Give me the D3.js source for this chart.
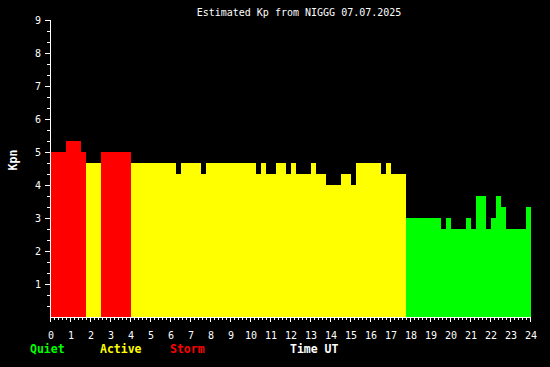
<!DOCTYPE html>
<html>
<head>
<meta charset="utf-8">
<script src="https://cdn.jsdelivr.net/npm/d3@7"></script>
<style>
  body { margin: 0; background: #000; }
  svg { display: block; }
  text { font-family: "DejaVu Sans Mono", monospace; fill: #fff; }
</style>
</head>
<body>
<div id="wrapper"></div>
<script>
// Kp estimate, one value per 15 minutes (00:00 .. 24:00 UT)
const kpValues = [
  5, 5, 5, 5.33, 5.33, 5.33, 5, 4.67, 4.67, 4.67,
  5, 5, 5, 5, 5, 5, 4.67, 4.67, 4.67, 4.67,
  4.67, 4.67, 4.67, 4.67, 4.67, 4.33, 4.67, 4.67, 4.67, 4.67,
  4.33, 4.67, 4.67, 4.67, 4.67, 4.67, 4.67, 4.67, 4.67, 4.67,
  4.67, 4.33, 4.67, 4.33, 4.33, 4.67, 4.67, 4.33, 4.67, 4.33,
  4.33, 4.33, 4.67, 4.33, 4.33, 4, 4, 4, 4.33, 4.33,
  4, 4.67, 4.67, 4.67, 4.67, 4.67, 4.33, 4.67, 4.33, 4.33,
  4.33, 3, 3, 3, 3, 3, 3, 3, 2.67, 3,
  2.67, 2.67, 2.67, 3, 2.67, 3.67, 3.67, 2.67, 3, 3.67,
  3.33, 2.67, 2.67, 2.67, 2.67, 3.33
]
const stepHours = 0.25
const yTickLabels = [1, 2, 3, 4, 5, 6, 7, 8, 9]
const xTickLabels = d3.range(0, 25)
const legendItems = [
  { label: "Quiet", color: "#00ff00" },
  { label: "Active", color: "#ffff00" },
  { label: "Storm", color: "#ff0000" },
]
const title = "Estimated Kp from NIGGG 07.07.2025"

const width = 550
const height = 367

const svg = d3.select("#wrapper")
  .append("svg")
    .attr("width", width)
    .attr("height", height)
    .style("background", "#000")

const xScale = d3.scaleLinear().domain([0, 24]).range([50, 530])
const yScale = d3.scaleLinear().domain([0, 9]).range([317, 20])

const colorFor = v => v >= 5 ? "#ff0000" : v >= 4 ? "#ffff00" : "#00ff00"

// bars
svg.append("g")
    .attr("shape-rendering", "crispEdges")
  .selectAll("rect")
  .data(kpValues)
  .join("rect")
    .attr("x", (d, i) => xScale(i * stepHours) + 1)
    .attr("width", (d, i) => xScale((i + 1) * stepHours) - xScale(i * stepHours))
    .attr("y", d => yScale(d))
    .attr("height", d => yScale(0) - yScale(d))
    .attr("fill", colorFor)

// y axis
const yAxisG = svg.append("g").attr("shape-rendering", "crispEdges")
yAxisG.append("line")
    .attr("x1", 50.5).attr("x2", 50.5)
    .attr("y1", yScale(9)).attr("y2", yScale(0) + 1)
    .attr("stroke", "#fff")
yAxisG.selectAll(".ytick")
  .data(d3.range(1, 28).map(d => d / 3))
  .join("line")
    .attr("x1", d => Math.abs(d - Math.round(d)) < 0.01 ? 45 : 47)
    .attr("x2", 50)
    .attr("y1", d => Math.round(yScale(d)) + 0.5)
    .attr("y2", d => Math.round(yScale(d)) + 0.5)
    .attr("stroke", "#fff")
yAxisG.selectAll("text")
  .data(yTickLabels)
  .join("text")
    .attr("x", 41)
    .attr("y", d => yScale(d) + 4)
    .attr("text-anchor", "end")
    .attr("font-size", 10)
    .text(d => d)

// x axis
const xAxisG = svg.append("g").attr("shape-rendering", "crispEdges")
xAxisG.append("line")
    .attr("x1", xScale(0)).attr("x2", xScale(24) + 1)
    .attr("y1", 317.5).attr("y2", 317.5)
    .attr("stroke", "#fff")
xAxisG.selectAll(".xtick")
  .data(d3.range(0, 121).map(d => d / 5))
  .join("line")
    .attr("x1", d => Math.round(xScale(d)) + 0.5)
    .attr("x2", d => Math.round(xScale(d)) + 0.5)
    .attr("y1", 318)
    .attr("y2", d => Math.abs(d - Math.round(d)) < 0.01 ? 322 : 320)
    .attr("stroke", "#fff")
xAxisG.selectAll("text")
  .data(xTickLabels)
  .join("text")
    .attr("x", d => xScale(d) + 1)
    .attr("y", 339)
    .attr("text-anchor", "middle")
    .attr("font-size", 10)
    .text(d => d)

// title
svg.append("text")
    .attr("x", 299)
    .attr("y", 16)
    .attr("text-anchor", "middle")
    .attr("font-size", 10)
    .text(title)

// y label
svg.append("text")
    .attr("transform", "translate(17, 160) rotate(-90)")
    .attr("text-anchor", "middle")
    .attr("font-size", 11.5)
    .attr("font-weight", "bold")
    .text("Kpn")

// legend
svg.selectAll(".legend")
  .data(legendItems)
  .join("text")
    .attr("x", (d, i) => 30 + i * 70)
    .attr("y", 353)
    .attr("font-size", 11.5)
    .attr("font-weight", "bold")
    .style("fill", d => d.color)
    .text(d => d.label)

svg.append("text")
    .attr("x", 290)
    .attr("y", 353)
    .attr("font-size", 11.5)
    .attr("font-weight", "bold")
    .text("Time UT")
</script>
</body>
</html>
